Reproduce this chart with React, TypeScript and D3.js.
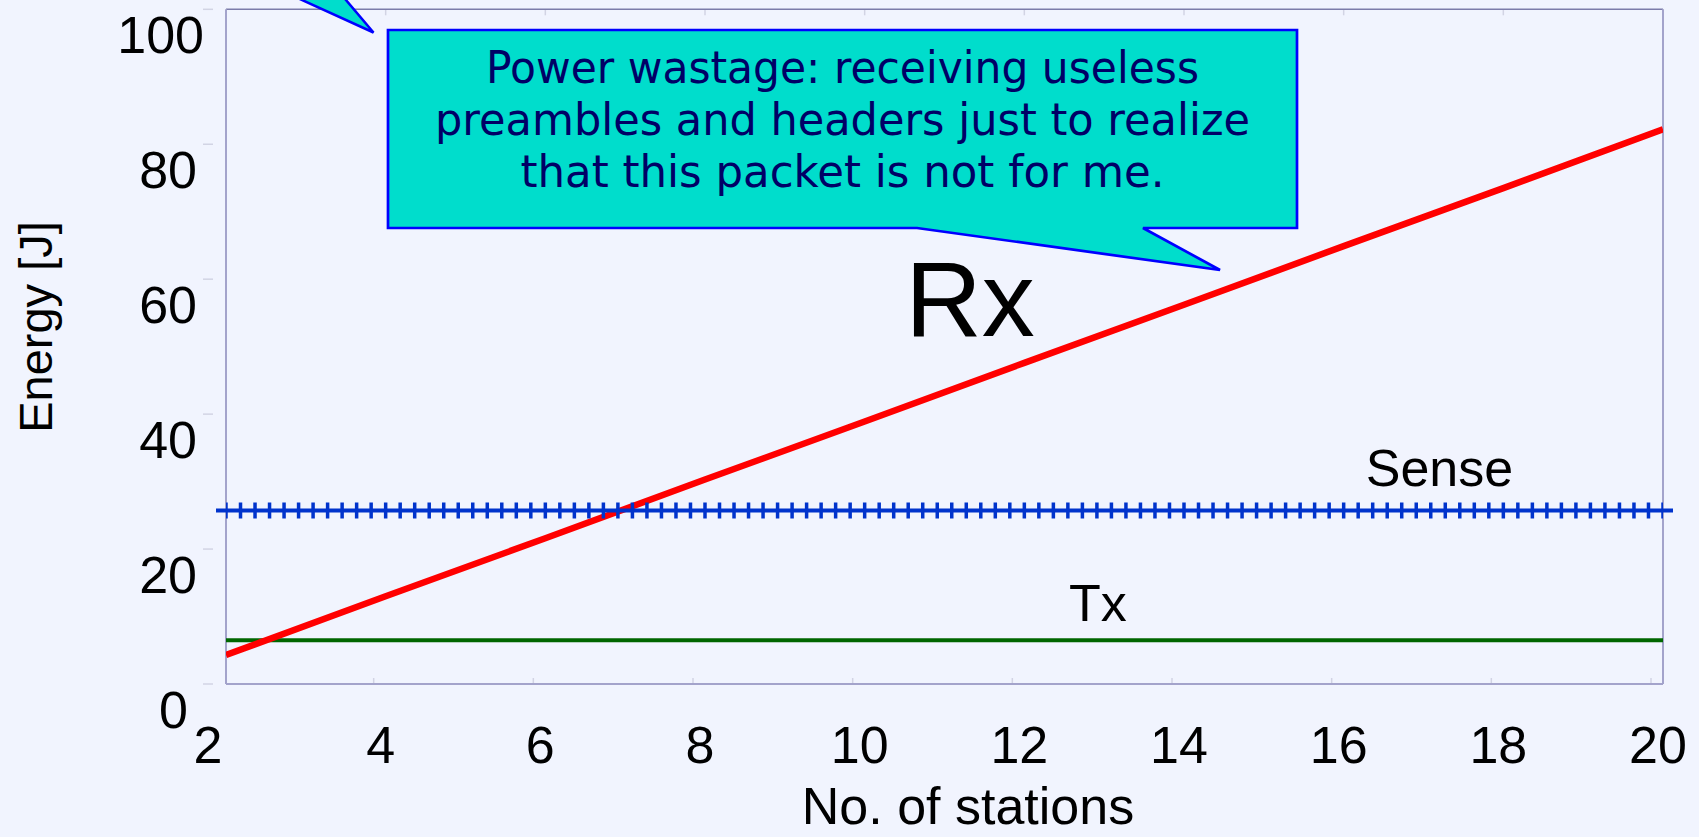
import * as d3 from "d3";

const WIDTH = 1699;
const HEIGHT = 837;

const stations = [2, 4, 6, 8, 10, 12, 14, 16, 18, 20];
const rxEnergy = [4.3, 13.0, 21.6, 30.3, 38.9, 47.6, 56.2, 64.9, 73.5, 82.2];
const senseEnergy = [25.7, 25.7, 25.7, 25.7, 25.7, 25.7, 25.7, 25.7, 25.7, 25.7];
const txEnergy = [6.5, 6.5, 6.5, 6.5, 6.5, 6.5, 6.5, 6.5, 6.5, 6.5];
const yTicks = [0, 20, 40, 60, 80, 100];
const calloutLines = [
  "Power wastage: receiving useless",
  "preambles and headers just to realize",
  "that this packet is not for me.",
];

const BG = "#f1f4fe";
const FRAME = "#a3a3cb";
const TICK = "#d2d4e4";
const NUM_FONT = "'Liberation Sans', Arial, sans-serif";

type Pt = { x: number; y: number };

export default function App() {
  const margin = { top: 9.3, right: 36, bottom: 153, left: 226 };
  const innerW = WIDTH - margin.left - margin.right;
  const innerH = HEIGHT - margin.top - margin.bottom;

  const x = d3.scaleLinear().domain([2, 20]).range([margin.left, margin.left + innerW]);
  const y = d3.scaleLinear().domain([0, 100]).range([margin.top + innerH, margin.top]);

  const toPts = (vals: number[]): Pt[] => stations.map((s, i) => ({ x: s, y: vals[i] }));
  const line = d3
    .line<Pt>()
    .x((d) => x(d.x))
    .y((d) => y(d.y));

  const rx = toPts(rxEnergy);
  const sense = toPts(senseEnergy);
  const tx = toPts(txEnergy);

  const x0 = x(2);
  const x1 = x(20);
  const y0 = y(0);
  const y1 = y(100);

  // "+" markers on the sense line, done as a dash pattern
  const markStep = (x1 - x0) / 99;
  const markW = 3.5;

  // callout geometry (pixels)
  const box = { l: 388, r: 1297, t: 30, b: 228 };
  const calloutPath = `M${box.l},${box.t} H${box.r} V${box.b} H1143 L1220,270 L917,${box.b} H${box.l} Z`;
  const tailTop = "M258,-20 L373.5,32.5 L329,-20 Z";
  const calloutWidths = [713, 815, 644];
  const calloutCx = (box.l + box.r) / 2;

  const yLabelNudge = (v: number) => (v === 100 ? 7 : v === 0 ? -9 : 0);

  return (
    <div style={{ position: "fixed", left: 0, top: 0, width: WIDTH, height: HEIGHT, background: BG }}>
      <svg width={WIDTH} height={HEIGHT} viewBox={`0 0 ${WIDTH} ${HEIGHT}`} style={{ display: "block" }}>
        <defs>
          <clipPath id="plot-clip">
            <rect x={x0} y={y1} width={x1 - x0} height={y0 - y1} />
          </clipPath>
        </defs>
        <rect x={0} y={0} width={WIDTH} height={HEIGHT} fill={BG} />

        {/* y ticks, outside the frame */}
        {yTicks.map((v) => (
          <g key={`yt${v}`}>
            <line x1={203} x2={213} y1={y(v)} y2={y(v)} stroke={TICK} strokeWidth={1.5} />
            <text
              x={197 + yLabelNudge(v)}
              y={y(v) + 44}
              textAnchor="end"
              fontFamily={NUM_FONT}
              fontSize={52}
              fill="#000"
            >
              {v}
            </text>
          </g>
        ))}

        {/* x ticks top and bottom */}
        {stations.slice(1).map((v) => (
          <g key={`xt${v}`}>
            <line x1={x(v)} x2={x(v)} y1={y1} y2={y1 + 6} stroke={TICK} strokeWidth={1.5} />
            <line x1={x(v) - 12} x2={x(v) - 12} y1={y0} y2={y0 - 6} stroke={TICK} strokeWidth={1.5} />
          </g>
        ))}
        {stations.map((v) => (
          <text
            key={`xl${v}`}
            x={x(v) + (v === 2 ? -18 : -5)}
            y={763}
            textAnchor="middle"
            fontFamily={NUM_FONT}
            fontSize={52}
            fill="#000"
          >
            {v}
          </text>
        ))}

        {/* frame */}
        <line x1={x0} x2={x1} y1={y1} y2={y1} stroke="#7c7caa" strokeWidth={1.5} />
        <line x1={x1} x2={x1} y1={y1} y2={y0} stroke={FRAME} strokeWidth={2} />
        <line x1={x0} x2={x0} y1={y1} y2={y0} stroke={FRAME} strokeWidth={2} />
        <line x1={x0} x2={x1} y1={y0} y2={y0} stroke={FRAME} strokeWidth={2} />

        {/* series */}
        <path d={line(tx) ?? ""} fill="none" stroke="#006600" strokeWidth={4} />
        <path
          d={line(rx) ?? ""}
          fill="none"
          stroke="#ff0000"
          strokeWidth={6.5}
          clipPath="url(#plot-clip)"
        />
        <line
          x1={x0 - 10}
          x2={x1 + 10}
          y1={y(senseEnergy[0])}
          y2={y(senseEnergy[senseEnergy.length - 1])}
          stroke="#0033cc"
          strokeWidth={4}
        />
        <path
          d={line(sense) ?? ""}
          fill="none"
          stroke="#0033cc"
          strokeWidth={16}
          strokeDasharray={`${markW} ${markStep - markW}`}
          strokeDashoffset={markW / 2}
        />

        {/* series labels */}
        <text x={x(17.2)} y={y(29.3)} textAnchor="middle" fontFamily={NUM_FONT} fontSize={52} fill="#000">
          Sense
        </text>
        <text x={x(12.92)} y={y(9.4)} textAnchor="middle" fontFamily={NUM_FONT} fontSize={52} fill="#000">
          Tx
        </text>
        <text x={x(11.32)} y={y(51.6)} textAnchor="middle" fontFamily={NUM_FONT} fontSize={106} fill="#000">
          Rx
        </text>

        {/* axis titles */}
        <text
          transform={`translate(52,327) rotate(-90)`}
          textAnchor="middle"
          fontFamily={NUM_FONT}
          fontSize={47}
          fill="#000"
        >
          Energy [J]
        </text>
        <text x={968} y={824} textAnchor="middle" fontFamily={NUM_FONT} fontSize={52} fill="#000">
          No. of stations
        </text>

        {/* callouts */}
        <path d={tailTop} fill="#00ddcc" stroke="#0000ff" strokeWidth={2.5} strokeLinejoin="miter" />
        <path d={calloutPath} fill="#00ddcc" stroke="#0000ff" strokeWidth={2.7} />
        {calloutLines.map((t, i) => (
          <text
            key={t}
            x={calloutCx}
            y={83 + i * 52}
            textAnchor="middle"
            fontFamily="'DejaVu Sans', Verdana, sans-serif"
            fontSize={44}
            fill="#000066"
            textLength={calloutWidths[i]}
            lengthAdjust="spacingAndGlyphs"
          >
            {t}
          </text>
        ))}
      </svg>
    </div>
  );
}
